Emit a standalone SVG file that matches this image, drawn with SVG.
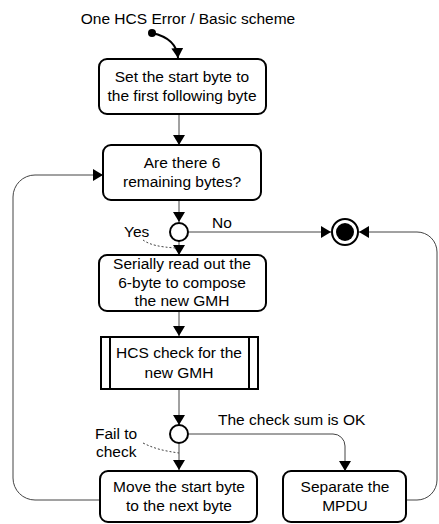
<svg xmlns="http://www.w3.org/2000/svg" width="439" height="524" viewBox="0 0 439 524">
<defs>
<style>
.box{fill:#fff;stroke:#000;stroke-width:2}
.t{font-family:"Liberation Sans",Arial,sans-serif;font-size:15.5px;fill:#000;text-anchor:middle}
.tl{font-family:"Liberation Sans",Arial,sans-serif;font-size:15.5px;fill:#000}
.c{fill:none;stroke:#444;stroke-width:1}
.d{fill:none;stroke:#444;stroke-width:1;stroke-dasharray:2,2}
</style>
<marker id="ah" markerWidth="10" markerHeight="12" refX="10" refY="6" orient="auto" markerUnits="userSpaceOnUse">
<path d="M0,0 L10,6 L0,12 Z" fill="#000"/>
</marker>
</defs>
<rect width="439" height="524" fill="#fff"/>
<text class="t" x="188" y="24">One HCS Error / Basic scheme</text>
<g id="connectors">
<circle cx="152" cy="33" r="4" fill="#000"/>
<path d="M152,33 C166,36 177,43 178,58" fill="none" stroke="#000" stroke-width="2" marker-end="url(#ah)"/>
<path class="c" d="M179,114 V145" marker-end="url(#ah)"/>
<path class="c" d="M179,200 V222" marker-end="url(#ah)"/>
<path class="c" d="M179,241 V255" marker-end="url(#ah)"/>
<path class="c" d="M189,232 H331" marker-end="url(#ah)"/>
<path class="c" d="M406,500 H417 A20,20 0 0 0 437,480 V252 A20,20 0 0 0 417,232 H359" marker-end="url(#ah)"/>
<path class="c" d="M179,311 V336" marker-end="url(#ah)"/>
<path class="c" d="M179,389 V425" marker-end="url(#ah)"/>
<path class="c" d="M179,444 V470" marker-end="url(#ah)"/>
<path class="c" d="M189,434 H333 A12,12 0 0 1 345,446 V471" marker-end="url(#ah)"/>
<path class="c" d="M100,500 H35 A22,22 0 0 1 13,478 V197 A22,22 0 0 1 35,175 H103" marker-end="url(#ah)"/>
<path class="d" d="M143,240 C150,245 160,247 176,248"/>
<path class="d" d="M143,443 C155,449 165,451 179,453"/>
<text class="tl" x="212" y="228">No</text>
<text class="tl" x="124" y="237">Yes</text>
<text class="tl" x="218" y="425">The check sum is OK</text>
<text class="tl" x="95" y="439">Fail to</text>
<text class="tl" x="96" y="457">check</text>
</g>
<g id="n1">
<rect class="box" x="99" y="59" width="167" height="55" rx="8"/>
<text class="t" x="182" y="82">Set the start byte to</text>
<text class="t" x="182" y="101">the first following byte</text>
</g>
<g id="n2">
<rect class="box" x="103" y="145" width="158" height="55" rx="8"/>
<text class="t" x="182" y="168">Are there 6</text>
<text class="t" x="182" y="187">remaining bytes?</text>
</g>
<g id="d1">
<circle cx="179" cy="232" r="9" fill="#fff" stroke="#000" stroke-width="2"/>
</g>
<g id="end">
<circle cx="345" cy="232" r="13" fill="#fff" stroke="#000" stroke-width="2"/>
<circle cx="345" cy="232" r="9" fill="#000"/>
</g>
<g id="n3">
<rect class="box" x="99" y="255" width="167" height="56" rx="8"/>
<text class="t" x="182" y="269">Serially read out the</text>
<text class="t" x="182" y="288">6-byte to compose</text>
<text class="t" x="182" y="306">the new GMH</text>
</g>
<g id="n4">
<rect class="box" x="101" y="337" width="157" height="52"/>
<line x1="110" y1="337" x2="110" y2="389" stroke="#000" stroke-width="2"/>
<line x1="249" y1="337" x2="249" y2="389" stroke="#000" stroke-width="2"/>
<text class="t" x="179" y="358">HCS check for the</text>
<text class="t" x="179" y="378">new GMH</text>
</g>
<g id="d2">
<circle cx="179" cy="434" r="9" fill="#fff" stroke="#000" stroke-width="2"/>
</g>
<g id="n5">
<rect class="box" x="100" y="471" width="157" height="51" rx="8"/>
<text class="t" x="179" y="492">Move the start byte</text>
<text class="t" x="179" y="511">to the next byte</text>
</g>
<g id="n6">
<rect class="box" x="283" y="471" width="123" height="51" rx="8"/>
<text class="t" x="345" y="492">Separate the</text>
<text class="t" x="345" y="511">MPDU</text>
</g>
</svg>
